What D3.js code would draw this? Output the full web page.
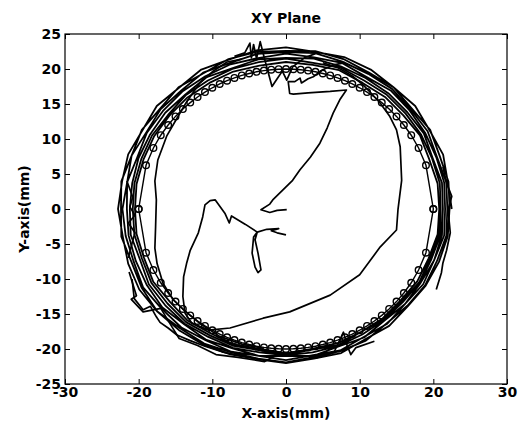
<!DOCTYPE html>
<html>
<head>
<meta charset="utf-8">
<script src="https://cdn.jsdelivr.net/npm/d3@7"></script>
<style>
body { margin: 0; background: #fff; }
text { font-family: "DejaVu Sans"; font-weight: bold; fill: #000; }
</style>
</head>
<body>
<svg id="chart" width="519" height="425"></svg>
<script>
var xTicks = [-30, -20, -10, 0, 10, 20, 30];
var yTicks = [-25, -20, -15, -10, -5, 0, 5, 10, 15, 20, 25];

// reference circle with markers (x from -20 to 20)
var refX = [-20,-19,-18,-17,-16,-15,-14,-13,-12,-11,-10,-9,-8,-7,-6,-5,-4,-3,-2,-1,0,
            1,2,3,4,5,6,7,8,9,10,11,12,13,14,15,16,17,18,19,20];
var refYUp = [0,6.24,8.72,10.54,12.00,13.23,14.28,15.20,16.00,16.70,17.32,17.86,18.33,18.73,19.08,19.36,19.60,19.77,19.90,19.97,20,
              19.97,19.90,19.77,19.60,19.36,19.08,18.73,18.33,17.86,17.32,16.70,16.00,15.20,14.28,13.23,12.00,10.54,8.72,6.24,0];
var refYDown = [0,-6.24,-8.72,-10.54,-12.00,-13.23,-14.28,-15.20,-16.00,-16.70,-17.32,-17.86,-18.33,-18.73,-19.08,-19.36,-19.60,-19.77,-19.90,-19.97,-20,
                -19.97,-19.90,-19.77,-19.60,-19.36,-19.08,-18.73,-18.33,-17.86,-17.32,-16.70,-16.00,-15.20,-14.28,-13.23,-12.00,-10.54,-8.72,-6.24,0];

// measured trajectory, outer loops read as radius (mm) every 10 degrees
var loopAngles = [0,10,20,30,40,50,60,70,80,90,100,110,120,130,140,150,160,170,
                  180,190,200,210,220,230,240,250,260,270,280,290,300,310,320,330,340,350];
var loop1 = [22.5,22.3,22.7,22.5,22.9,22.7,23.0,23.1,22.8,23.1,23.0,22.7,23.0,22.6,22.9,22.5,22.8,22.6,22.8,22.5,22.8,23.0,22.8,22.6,22.4,22.1,21.8,22.0,21.7,21.9,21.5,21.8,21.6,21.9,22.1,22.3];
var loop2 = [22.2,22.4,22.2,22.6,22.3,22.7,22.5,22.8,22.9,22.6,22.8,22.8,22.4,22.7,22.3,22.6,22.3,22.7,22.4,22.7,22.3,22.6,22.8,22.3,22.2,21.8,21.7,21.9,21.5,21.6,21.7,21.3,21.5,21.8,21.8,22.1];
var loop3 = [21.9,22.1,21.8,22.2,22.1,22.4,22.3,22.4,22.6,22.4,22.5,22.2,22.5,22.1,22.2,21.9,22.3,21.9,22.2,22.1,22.0,22.4,22.1,22.1,21.7,21.7,21.3,21.6,21.2,21.5,21.1,21.4,21.1,21.5,21.4,21.8];
var loop4 = [21.6,21.8,21.7,21.8,21.9,22.1,21.8,22.2,22.0,22.2,21.9,22.0,21.9,21.9,21.8,21.8,21.5,21.9,21.6,21.7,21.7,21.8,21.9,21.5,21.6,21.2,21.3,21.0,21.3,20.9,21.2,20.8,21.1,21.1,21.4,21.5];
var loop5 = [21.3,21.5,21.2,21.6,21.5,21.6,21.6,21.7,21.8,21.6,21.7,21.4,21.7,21.3,21.4,21.3,21.3,21.2,21.2,21.4,21.1,21.5,21.4,21.4,21.1,21.1,20.8,20.9,20.8,20.8,20.7,20.7,20.7,21.0,21.0,21.3];
var loop6 = [21.0,21.2,21.1,21.2,21.2,21.3,21.2,21.5,21.2,21.5,21.3,21.3,21.2,21.2,20.9,21.0,20.9,20.9,20.8,20.9,20.8,21.1,21.0,21.1,20.8,20.8,20.5,20.8,20.4,20.7,20.3,20.6,20.5,20.9,20.8,21.1];
var loop7 = [20.8,20.9,20.7,21.0,20.8,20.9,20.8,21.1,20.9,21.0,20.8,20.9,20.8,20.8,20.7,20.7,20.6,20.6,20.5,20.6,20.5,20.8,20.6,20.8,20.5,20.6,20.3,20.6,20.3,20.4,20.3,20.4,20.3,20.6,20.6,20.9];

// measured trajectory pieces read as (x, y) in mm
var startPath = [[0.1,-0.1],[-1.2,-0.2],[-2.2,-0.5],[-3.4,-0.1],[-2.2,0.7],[-1.8,1.3],[0.9,4.1],[1.9,5.6],
                 [3.3,7.4],[4.6,9.4],[5.6,11.6],[6.4,13.7],[7.3,15.6],[8.2,17.0],[6.0,16.8],[3.0,16.6],
                 [1.0,16.4],[0.5,16.5],[0.3,18.2],[1.2,18.2],[1.9,18.7],[2.1,18.0],[3.0,18.6],[3.7,18.9],
                 [5.0,19.9],[6.5,20.6],[8.0,20.9]];
var spikePath = [[-7.0,21.8],[-5.6,22.3],[-4.9,23.7],[-4.7,21.6],[-4.4,23.5],[-4.0,21.5],[-3.5,23.9],
                 [-2.9,21.4],[-1.9,17.5],[-1.2,18.6],[-0.5,19.7],[0.1,18.4],[0.9,20.3],[2.5,21.6],[4.0,22.2]];
var innerPath = [[0.0,-3.7],[-1.2,-3.4],[-2.0,-3.1],[-1.0,-2.8],[-2.6,-2.9],[-3.9,-3.3],[-4.4,-4.0],[-4.6,-6.3],
                 [-4.2,-8.3],[-3.8,-9.1],[-3.4,-8.7],[-3.8,-6.3],[-4.2,-4.4],[-3.9,-3.3],[-5.5,-2.2],[-7.4,-1.0],
                 [-7.7,-2.0],[-8.3,-0.6],[-9.6,1.3],[-10.3,1.2],[-11.0,0.6],[-11.3,-1.1],[-11.9,-3.4],[-13.0,-5.9],
                 [-13.5,-7.8],[-13.9,-9.7],[-14.0,-12.5],[-13.7,-14.9],[-12.8,-16.3],[-10.5,-17.3],[-7.6,-17.0],
                 [-3.1,-15.6],[0.5,-14.7],[6.0,-12.3],[10.0,-9.4],[12.8,-5.4],[15.0,-3.0],[15.2,-0.1],[15.7,4.1],
                 [15.5,8.9],[15.0,11.3],[14.1,13.2],[12.8,15.1],[11.6,16.5],[10.5,17.7],[9.0,19.0],[7.0,20.2],[5.0,20.9]];
var leftPath = [[-6.0,21.4],[-8.0,21.0],[-10.0,19.6],[-11.7,18.0],[-13.5,15.3],[-15.0,12.6],[-16.2,10.4],[-17.4,7.0],
                [-17.8,4.0],[-17.6,1.3],[-17.7,-2.5],[-17.8,-5.6],[-17.5,-7.8],[-16.7,-10.6],[-15.3,-13.0],
                [-13.7,-14.6],[-11.5,-16.5],[-9.0,-18.2],[-6.0,-19.3],[-3.0,-19.9]];
var leftZig = [[-21.6,4.0],[-20.8,1.7],[-21.2,0.3],[-20.5,-0.9],[-21.4,-2.0],[-20.5,-3.4],[-20.9,-4.9],[-21.4,-7.0]];
var rightZig = [[21.3,6.0],[21.8,3.7],[22.5,1.8],[22.0,-0.1],[22.3,-3.4],[21.8,-5.9],[21.3,-7.7],[21.1,-9.1],[20.4,-11.5]];
var lowLeftA = [[-20.9,-10.0],[-20.6,-12.8],[-19.4,-14.4],[-18.4,-13.9],[-17.6,-15.4],[-17.1,-16.2],[-16.0,-17.0],
                [-14.8,-18.0],[-13.0,-18.8],[-11.0,-19.6],[-8.7,-20.4],[-6.0,-21.0]];
var lowLeftB = [[-21.3,-9.0],[-20.3,-12.4],[-21.0,-12.9],[-19.4,-14.7],[-17.0,-14.2],[-15.5,-16.8],[-14.5,-18.5],
                [-12.0,-19.5],[-9.5,-20.8],[-6.5,-21.2],[-2.9,-21.8],[-1.5,-21.0]];
var lowRightX = [[4.0,-21.3],[6.5,-20.5],[7.8,-17.6],[8.3,-19.5],[8.8,-20.8],[9.5,-19.8],[12.0,-18.9]];

var loops = [loop1, loop2, loop3, loop4, loop5, loop6, loop7];
var pieces = [startPath, spikePath, innerPath, leftPath, leftZig, rightZig, lowLeftA, lowLeftB, lowRightX];

var svg = d3.select("#chart");
var padL = 65, padR = 507, padT = 34, padB = 384;

var x = d3.scaleLinear().domain([-30, 30]).range([padL, padR]);
var y = d3.scaleLinear().domain([-25, 25]).range([padB, padT]);

var line = d3.line()
    .x(function(d) { return x(d[0]); })
    .y(function(d) { return y(d[1]); });

svg.append("clipPath").attr("id", "plotclip")
    .append("rect")
    .attr("x", padL).attr("y", padT)
    .attr("width", padR - padL).attr("height", padB - padT);

var plot = svg.append("g").attr("clip-path", "url(#plotclip)");

// outer loops as one continuous path
var loopPts = [];
loops.forEach(function(rs) {
    rs.forEach(function(r, i) {
        var a = loopAngles[i] * Math.PI / 180;
        loopPts.push([r * Math.cos(a), r * Math.sin(a)]);
    });
});
loopPts.push([loop7[0], 0]);

plot.append("path")
    .datum(loopPts)
    .attr("d", line)
    .attr("fill", "none")
    .attr("stroke", "#000")
    .attr("stroke-width", 1.8)
    .attr("stroke-linejoin", "round");

plot.selectAll("path.piece")
    .data(pieces)
    .enter().append("path")
    .attr("class", "piece")
    .attr("d", line)
    .attr("fill", "none")
    .attr("stroke", "#000")
    .attr("stroke-width", 1.7)
    .attr("stroke-linejoin", "round");

// reference circle
var refPts = refX.map(function(v, i) { return [v, refYUp[i]]; });
var lowPts = refX.map(function(v, i) { return [v, refYDown[i]]; }).reverse();
var refAll = refPts.concat(lowPts);

plot.append("path")
    .datum(refAll)
    .attr("d", line)
    .attr("fill", "none")
    .attr("stroke", "#000")
    .attr("stroke-width", 1.4);

plot.selectAll("circle.mk")
    .data(refAll)
    .enter().append("circle")
    .attr("class", "mk")
    .attr("cx", function(d) { return x(d[0]); })
    .attr("cy", function(d) { return y(d[1]); })
    .attr("r", 3.3)
    .attr("fill", "none")
    .attr("stroke", "#000")
    .attr("stroke-width", 1.4);

// axes
var fmt = function(d) { return String(d); };
function styleAxis(g) {
    g.select(".domain").remove();
    g.attr("font-size", 14).attr("font-family", "DejaVu Sans");
    g.selectAll(".tick line").attr("stroke", "#000");
}

svg.append("g")
    .attr("transform", "translate(0," + padB + ")")
    .call(d3.axisBottom(x).tickValues(xTicks).tickSizeInner(-5).tickSizeOuter(0).tickPadding(3).tickFormat(fmt))
    .call(styleAxis);
svg.append("g")
    .attr("transform", "translate(0," + padT + ")")
    .call(d3.axisTop(x).tickValues(xTicks).tickSizeInner(-5).tickSizeOuter(0).tickFormat(""))
    .call(styleAxis);
svg.append("g")
    .attr("transform", "translate(" + padL + ",0)")
    .call(d3.axisLeft(y).tickValues(yTicks).tickSizeInner(-5).tickSizeOuter(0).tickPadding(4).tickFormat(fmt))
    .call(styleAxis);
svg.append("g")
    .attr("transform", "translate(" + padR + ",0)")
    .call(d3.axisRight(y).tickValues(yTicks).tickSizeInner(-5).tickSizeOuter(0).tickFormat(""))
    .call(styleAxis);

svg.append("rect")
    .attr("x", padL).attr("y", padT)
    .attr("width", padR - padL).attr("height", padB - padT)
    .attr("fill", "none")
    .attr("stroke", "#000")
    .attr("stroke-width", 1.2);

svg.append("text")
    .attr("x", (padL + padR) / 2).attr("y", 23)
    .attr("text-anchor", "middle")
    .attr("font-size", 14)
    .text("XY Plane");

svg.append("text")
    .attr("x", (padL + padR) / 2).attr("y", 418)
    .attr("text-anchor", "middle")
    .attr("font-size", 14)
    .text("X-axis(mm)");

svg.append("text")
    .attr("transform", "translate(29," + (padT + padB) / 2 + ") rotate(-90)")
    .attr("text-anchor", "middle")
    .attr("font-size", 14)
    .text("Y-axis(mm)");
</script>
</body>
</html>
